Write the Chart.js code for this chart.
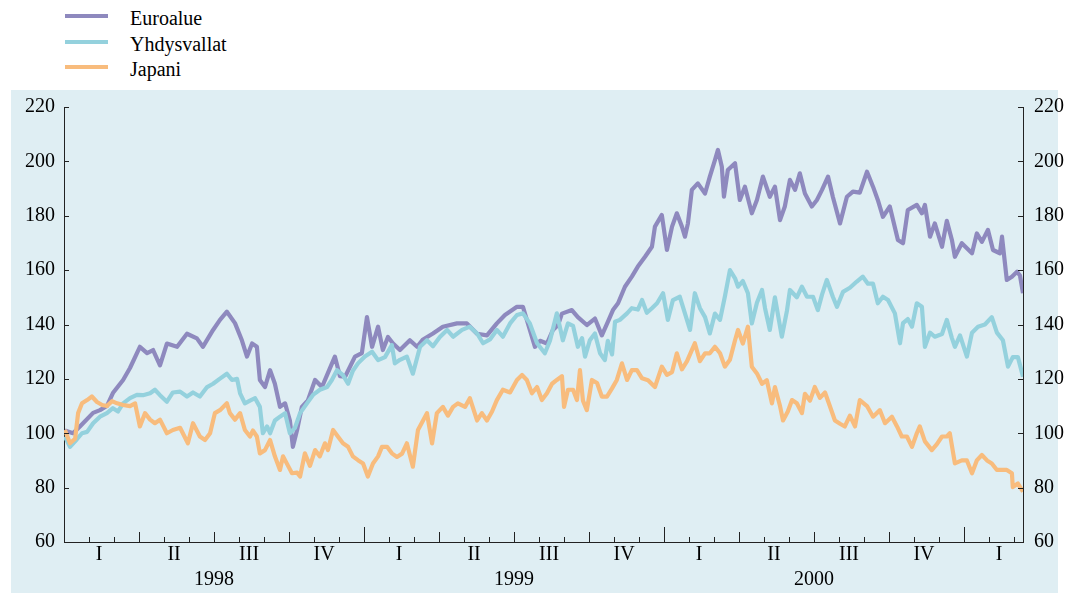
<!DOCTYPE html>
<html>
<head>
<meta charset="utf-8">
<script src="https://cdn.jsdelivr.net/npm/chart.js@4.4.1/dist/chart.umd.min.js"></script>
<style>
  body { margin: 0; background: #fff; }
  #wrap { position: relative; width: 1071px; height: 593px; overflow: hidden;
          font-family: "Liberation Serif", "Times New Roman", serif; }
  #panel { position: absolute; left: 11px; top: 90px; width: 1047px; height: 503px; background: #dfeef3; }
  #legend { position: absolute; left: 0; top: 0; }
  .swatch { position: absolute; left: 65px; width: 43px; height: 4px; }
  .label { position: absolute; left: 130px; font-size: 20px; line-height: 20px; color: #000; white-space: nowrap; }
  #chart { position: absolute; left: 0; top: 0; }
</style>
</head>
<body>
<div id="wrap">
  <div id="panel"></div>
  <div id="legend"></div>
  <canvas id="chart" width="1071" height="593"></canvas>
</div>
<script>
// x values: years since 1 Jan 1998
var euroX = [0.003,0.030,0.053,0.097,0.120,0.143,0.163,0.197,0.220,0.253,0.277,0.297,0.320,0.343,0.377,0.410,0.443,0.463,0.497,0.520,
  0.543,0.570,0.593,0.610,0.627,0.643,0.653,0.670,0.687,0.703,0.720,0.737,0.753,0.763,0.777,0.793,0.813,0.837,0.860,0.880,
  0.903,0.920,0.937,0.970,0.993,1.010,1.027,1.047,1.063,1.080,1.097,1.120,1.153,1.177,1.197,1.230,1.263,1.310,1.343,1.377,
  1.410,1.443,1.470,1.510,1.530,1.553,1.570,1.587,1.610,1.630,1.647,1.660,1.693,1.713,1.743,1.770,1.793,1.813,1.830,1.847,
  1.870,1.893,1.913,1.937,1.960,1.970,1.993,2.010,2.027,2.043,2.060,2.070,2.080,2.093,2.113,2.137,2.153,2.170,2.180,2.193,
  2.200,2.213,2.237,2.253,2.270,2.293,2.310,2.330,2.353,2.370,2.387,2.403,2.420,2.437,2.453,2.470,2.493,2.510,2.527,2.547,
  2.563,2.587,2.610,2.630,2.653,2.677,2.697,2.713,2.730,2.753,2.780,2.797,2.813,2.843,2.860,2.870,2.887,2.903,2.927,2.943,
  2.960,2.970,2.993,3.027,3.043,3.060,3.080,3.097,3.120,3.127,3.143,3.160,3.177,3.187,3.197];
var euroY = [101,100,102.5,107.5,108.5,110,114.8,119.6,124,131.8,129.5,130.6,125,133,131.8,136.6,134.9,131.8,138,141.7,
  144.7,140.5,134.2,128.2,133,131.8,119.6,117,123.2,118.2,109.7,111,104.7,95,101.2,109.7,112.1,119.6,117,122.2,
  128.2,121,120.8,128.2,129.5,142.7,131.8,139.2,130.6,135.4,133,130.6,134.2,131.8,134.5,136.7,139.2,140.4,140.4,136.6,
  136,140.4,143.5,146.5,146.5,138,131.8,134,133,138,139.8,144,145.3,142.7,139.8,142.2,136,141,145.3,147.8,
  153.9,157.6,161.3,164.9,168.6,176,180.3,167.4,176,180.9,176,172.3,177.2,189.5,191.9,188.2,194.4,200.5,204.2,198,
  187,196.8,199.3,185.8,190.7,180.9,185.8,194.4,187,190.7,178.4,183.4,193.2,189.5,195.6,188.2,183.4,185.8,189.5,194.4,
  187,177.2,187,188.9,188.5,196.2,190.7,185.8,179.6,183.4,171.1,169.9,182.1,184,180.9,184,172.3,177.2,168.6,178.1,
  171.1,164.9,169.9,166.2,173.5,170.4,174.8,167.4,166.2,172.3,156.4,157.6,159.4,158,151.5];

var usX = [0.003,0.020,0.043,0.060,0.077,0.097,0.120,0.143,0.163,0.180,0.197,0.220,0.243,0.263,0.287,0.303,0.320,0.343,0.363,0.387,
  0.410,0.430,0.453,0.477,0.497,0.520,0.543,0.560,0.577,0.587,0.603,0.620,0.637,0.653,0.663,0.677,0.687,0.703,0.720,0.737,
  0.753,0.770,0.787,0.810,0.830,0.853,0.877,0.893,0.910,0.930,0.947,0.963,0.980,1.003,1.027,1.047,1.070,1.093,1.103,1.120,
  1.143,1.163,1.187,1.210,1.230,1.253,1.277,1.297,1.327,1.353,1.377,1.397,1.420,1.443,1.463,1.487,1.510,1.530,1.553,1.577,
  1.603,1.620,1.643,1.663,1.680,1.697,1.713,1.727,1.737,1.753,1.770,1.787,1.803,1.813,1.827,1.837,1.853,1.877,1.893,1.913,
  1.927,1.943,1.960,1.977,1.997,2.013,2.030,2.053,2.070,2.087,2.103,2.120,2.137,2.153,2.170,2.187,2.203,2.220,2.237,2.247,
  2.263,2.280,2.293,2.310,2.327,2.337,2.353,2.370,2.393,2.410,2.420,2.443,2.460,2.477,2.497,2.513,2.527,2.543,2.563,2.577,
  2.597,2.620,2.643,2.663,2.680,2.697,2.713,2.730,2.747,2.770,2.787,2.797,2.813,2.827,2.843,2.860,2.870,2.887,2.903,2.927,
  2.943,2.960,2.970,2.987,3.010,3.027,3.047,3.070,3.093,3.110,3.130,3.147,3.163,3.180,3.197];
var usY = [98.8,95,97.8,100,100.5,103.7,106.1,107.4,109.2,108,111,112.9,114.1,114,114.7,116,114,111.6,115,115.3,
  113.5,115,113.5,117,118.2,120.1,121.9,119.6,120,114.7,111,112,112.9,109.7,100,102.5,100,104.7,106.1,107.4,
  100,102,107.4,111,114.1,116,117,119.6,123.2,121.4,118.2,123,125.7,128.2,130,126.9,128,132.4,125.7,127,
  128.2,121.9,131.8,134.2,132,135.4,138,135.5,138,139.2,136.7,133.1,134.5,138,135.5,140.4,143.5,144.1,140.4,133.1,
  129.4,134,144.1,134.2,140.4,139.5,131.8,135,128.2,134.2,136.7,129.4,126.9,134,129,141,141.7,144.1,146,145.5,
  149,144.3,146,147.8,151.5,141.7,149,150.2,144.1,138,151.5,146,142.7,136.7,144,141.7,150.2,160,157,153.9,
  156,151.5,140.4,148,152.7,146,138,150,135.5,145,152.7,150,153.9,150.2,150.2,145.3,151,156.4,150.2,146.5,
  152,153.5,155.8,157.6,155,155,147.8,150.2,149,144.1,133.1,140.5,142,139.2,147.8,146.5,131.8,137,135.5,136.5,
  141.7,135,131.8,136,128.2,137,139.2,140,142.7,137,134.2,124.5,128,128,120.8];

var jpX = [0.003,0.020,0.037,0.047,0.060,0.077,0.093,0.110,0.127,0.143,0.160,0.177,0.197,0.220,0.237,0.253,0.270,0.287,0.303,0.320,
  0.343,0.363,0.387,0.413,0.430,0.453,0.470,0.487,0.503,0.520,0.543,0.553,0.570,0.587,0.603,0.620,0.630,0.643,0.653,0.670,
  0.687,0.703,0.720,0.730,0.747,0.760,0.777,0.787,0.803,0.820,0.837,0.853,0.870,0.880,0.897,0.913,0.930,0.947,0.963,0.980,
  0.997,1.013,1.030,1.047,1.060,1.077,1.093,1.110,1.127,1.143,1.163,1.180,1.197,1.210,1.227,1.243,1.263,1.280,1.297,1.313,
  1.337,1.353,1.377,1.393,1.410,1.427,1.443,1.463,1.487,1.510,1.527,1.543,1.560,1.577,1.593,1.610,1.627,1.643,1.660,1.667,
  1.680,1.697,1.710,1.720,1.730,1.743,1.760,1.777,1.793,1.810,1.827,1.843,1.860,1.877,1.893,1.910,1.927,1.947,1.970,1.993,
  2.010,2.027,2.043,2.060,2.077,2.093,2.103,2.120,2.137,2.153,2.170,2.187,2.203,2.220,2.237,2.247,2.263,2.280,2.293,2.310,
  2.327,2.343,2.360,2.370,2.387,2.397,2.413,2.427,2.443,2.460,2.470,2.487,2.503,2.520,2.537,2.553,2.570,2.587,2.603,2.620,
  2.637,2.653,2.677,2.697,2.720,2.737,2.760,2.777,2.793,2.810,2.827,2.843,2.853,2.870,2.893,2.910,2.927,2.943,2.953,2.970,
  2.993,3.010,3.027,3.043,3.060,3.077,3.093,3.110,3.127,3.143,3.160,3.163,3.180,3.197];
var jpY = [101.2,96.3,98,107.4,111,112.2,113.5,111.5,110.4,110,111.8,111,110.4,110,111,102.5,107.4,105,103.7,105,
  100,101.2,102,96.3,103.7,98.8,97.5,100,107.4,108.5,111,107.4,105,107.4,101.2,98.8,101,98.8,92.6,93.8,
  97.5,91.5,86.5,91.5,88,85.3,85.5,84.1,92.6,88,93.8,91.5,96.3,93.8,101.2,98.8,96.3,95,91.5,90.1,
  88.9,84.1,88.9,91.5,95,95,92.6,91.3,92.5,96.3,87.7,101.2,104.7,107.4,96.3,107.4,109.7,106.5,109.7,111,
  109.7,112.9,104.7,107.4,104.7,108,112.2,116,115,119.6,121.4,119.6,114.7,117,112.2,114.7,118.2,119.6,121,109.7,
  116,116,112.2,123.2,112,108.5,119.6,118.5,113.5,113.5,116.5,119.6,125.7,119.6,123.2,123.2,120.2,119.5,117,124.5,
  121.5,122.5,129.4,123.5,126.5,130.6,133.1,126.5,129.4,129.4,131.8,129.4,124.5,127,134.2,138,133,139.2,124.5,122,
  118.2,119.5,111,117,110,104.7,108,112.2,111,107.4,114.5,112,117,113,115,110,104.7,103.5,102.5,106.5,
  102.5,112.2,110,106.1,108.5,103.7,106.1,102.5,98.8,98.8,95,100,102.5,97,93.8,96,98.8,98.8,100,88.9,
  90,90,85.3,90,92,90,88.9,86.5,86.5,86.5,85.3,80.2,81.5,78.5];

var seriesNames = ['Euroalue', 'Yhdysvallat', 'Japani'];
var seriesColors = ['#8e89be', '#94d1dd', '#f8bc7d'];
var quarterLabels = ['I','II','III','IV','I','II','III','IV','I','II','III','IV','I'];
var yearLabels = ['1998', '1999', '2000'];
var yTicks = [60, 80, 100, 120, 140, 160, 180, 200, 220];
var xMax = 3.197;

// legend
var legend = document.getElementById('legend');
seriesNames.forEach(function (name, i) {
  var sw = document.createElement('div');
  sw.className = 'swatch';
  sw.style.top = (14 + i * 25.5) + 'px';
  sw.style.background = seriesColors[i];
  legend.appendChild(sw);
  var lb = document.createElement('div');
  lb.className = 'label';
  lb.style.top = (8 + i * 25.5) + 'px';
  lb.textContent = name;
  legend.appendChild(lb);
});

function pts(xs, ys) {
  return xs.map(function (x, i) { return { x: x, y: ys[i] }; });
}

var font = { family: '"Liberation Serif", "Times New Roman", serif', size: 20 };

// month / quarter / year ticks pointing inward, plus y ticks on both sides
var axisTicks = {
  id: 'axisTicks',
  afterDraw: function (chart) {
    var ctx = chart.ctx, a = chart.chartArea, x = chart.scales.x, y = chart.scales.y;
    ctx.save();
    ctx.strokeStyle = '#222';
    ctx.lineWidth = 1;
    ctx.beginPath();
    for (var m = 1; m <= 39; m++) {
      var px = Math.round(x.getPixelForValue(m / 12)) + 0.5;
      if (px > a.right - 1) break;
      var len = m % 12 === 0 ? 15 : (m % 3 === 0 ? 10 : 5);
      ctx.moveTo(px, a.bottom);
      ctx.lineTo(px, a.bottom - len);
    }
    yTicks.forEach(function (v) {
      var py = Math.round(y.getPixelForValue(v)) + 0.5;
      ctx.moveTo(a.left, py); ctx.lineTo(a.left + 5, py);
      ctx.moveTo(a.right, py); ctx.lineTo(a.right - 5, py);
    });
    ctx.stroke();
    ctx.restore();
  }
};

var ctx = document.getElementById('chart').getContext('2d');
var chart = new Chart(ctx, {
  type: 'line',
  data: {
    datasets: [
      { label: seriesNames[0], data: pts(euroX, euroY), borderColor: seriesColors[0], order: 2 },
      { label: seriesNames[1], data: pts(usX, usY), borderColor: seriesColors[1], order: 1 },
      { label: seriesNames[2], data: pts(jpX, jpY), borderColor: seriesColors[2], order: 0 }
    ]
  },
  options: {
    responsive: false,
    animation: false,
    devicePixelRatio: 1,
    layout: { padding: { top: 107, left: 0, right: 0, bottom: 0 } },
    elements: {
      line: { borderWidth: 4.2, tension: 0, borderJoinStyle: 'round' },
      point: { radius: 0 }
    },
    plugins: { legend: { display: false }, tooltip: { enabled: false } },
    scales: {
      x: {
        type: 'linear', position: 'bottom', min: 0, max: xMax, weight: 0,
        grid: { display: false, drawTicks: false },
        border: { display: true, color: '#222', width: 1 },
        afterBuildTicks: function (axis) {
          axis.ticks = quarterLabels.map(function (l, i) { return { value: (i + 0.5) / 4 - 0.008 }; });
        },
        ticks: {
          autoSkip: false, maxRotation: 0, padding: 1, color: '#000', font: font,
          callback: function (v, i) { return quarterLabels[i]; }
        },
        afterFit: function (axis) { axis.height = 25; }
      },
      x2: {
        type: 'linear', position: 'bottom', min: 0, max: xMax, weight: 1,
        grid: { display: false, drawTicks: false },
        border: { display: false },
        afterBuildTicks: function (axis) {
          axis.ticks = yearLabels.map(function (l, i) { return { value: i + 0.5 }; });
        },
        ticks: {
          autoSkip: false, maxRotation: 0, padding: 1, color: '#000', font: font,
          callback: function (v, i) { return yearLabels[i]; }
        },
        afterFit: function (axis) { axis.height = 26; }
      },
      y: {
        position: 'left', min: 60, max: 220,
        grid: { display: false, drawTicks: false },
        border: { display: true, color: '#222', width: 1 },
        ticks: { stepSize: 20, padding: 9, color: '#000', font: font },
        afterFit: function (axis) { axis.width = 64; }
      },
      y2: {
        position: 'right', min: 60, max: 220,
        grid: { display: false, drawTicks: false },
        border: { display: true, color: '#222', width: 1 },
        ticks: { stepSize: 20, padding: 11, color: '#000', font: font },
        afterFit: function (axis) { axis.width = 48; }
      }
    }
  },
  plugins: [axisTicks]
});
</script>
</body>
</html>
